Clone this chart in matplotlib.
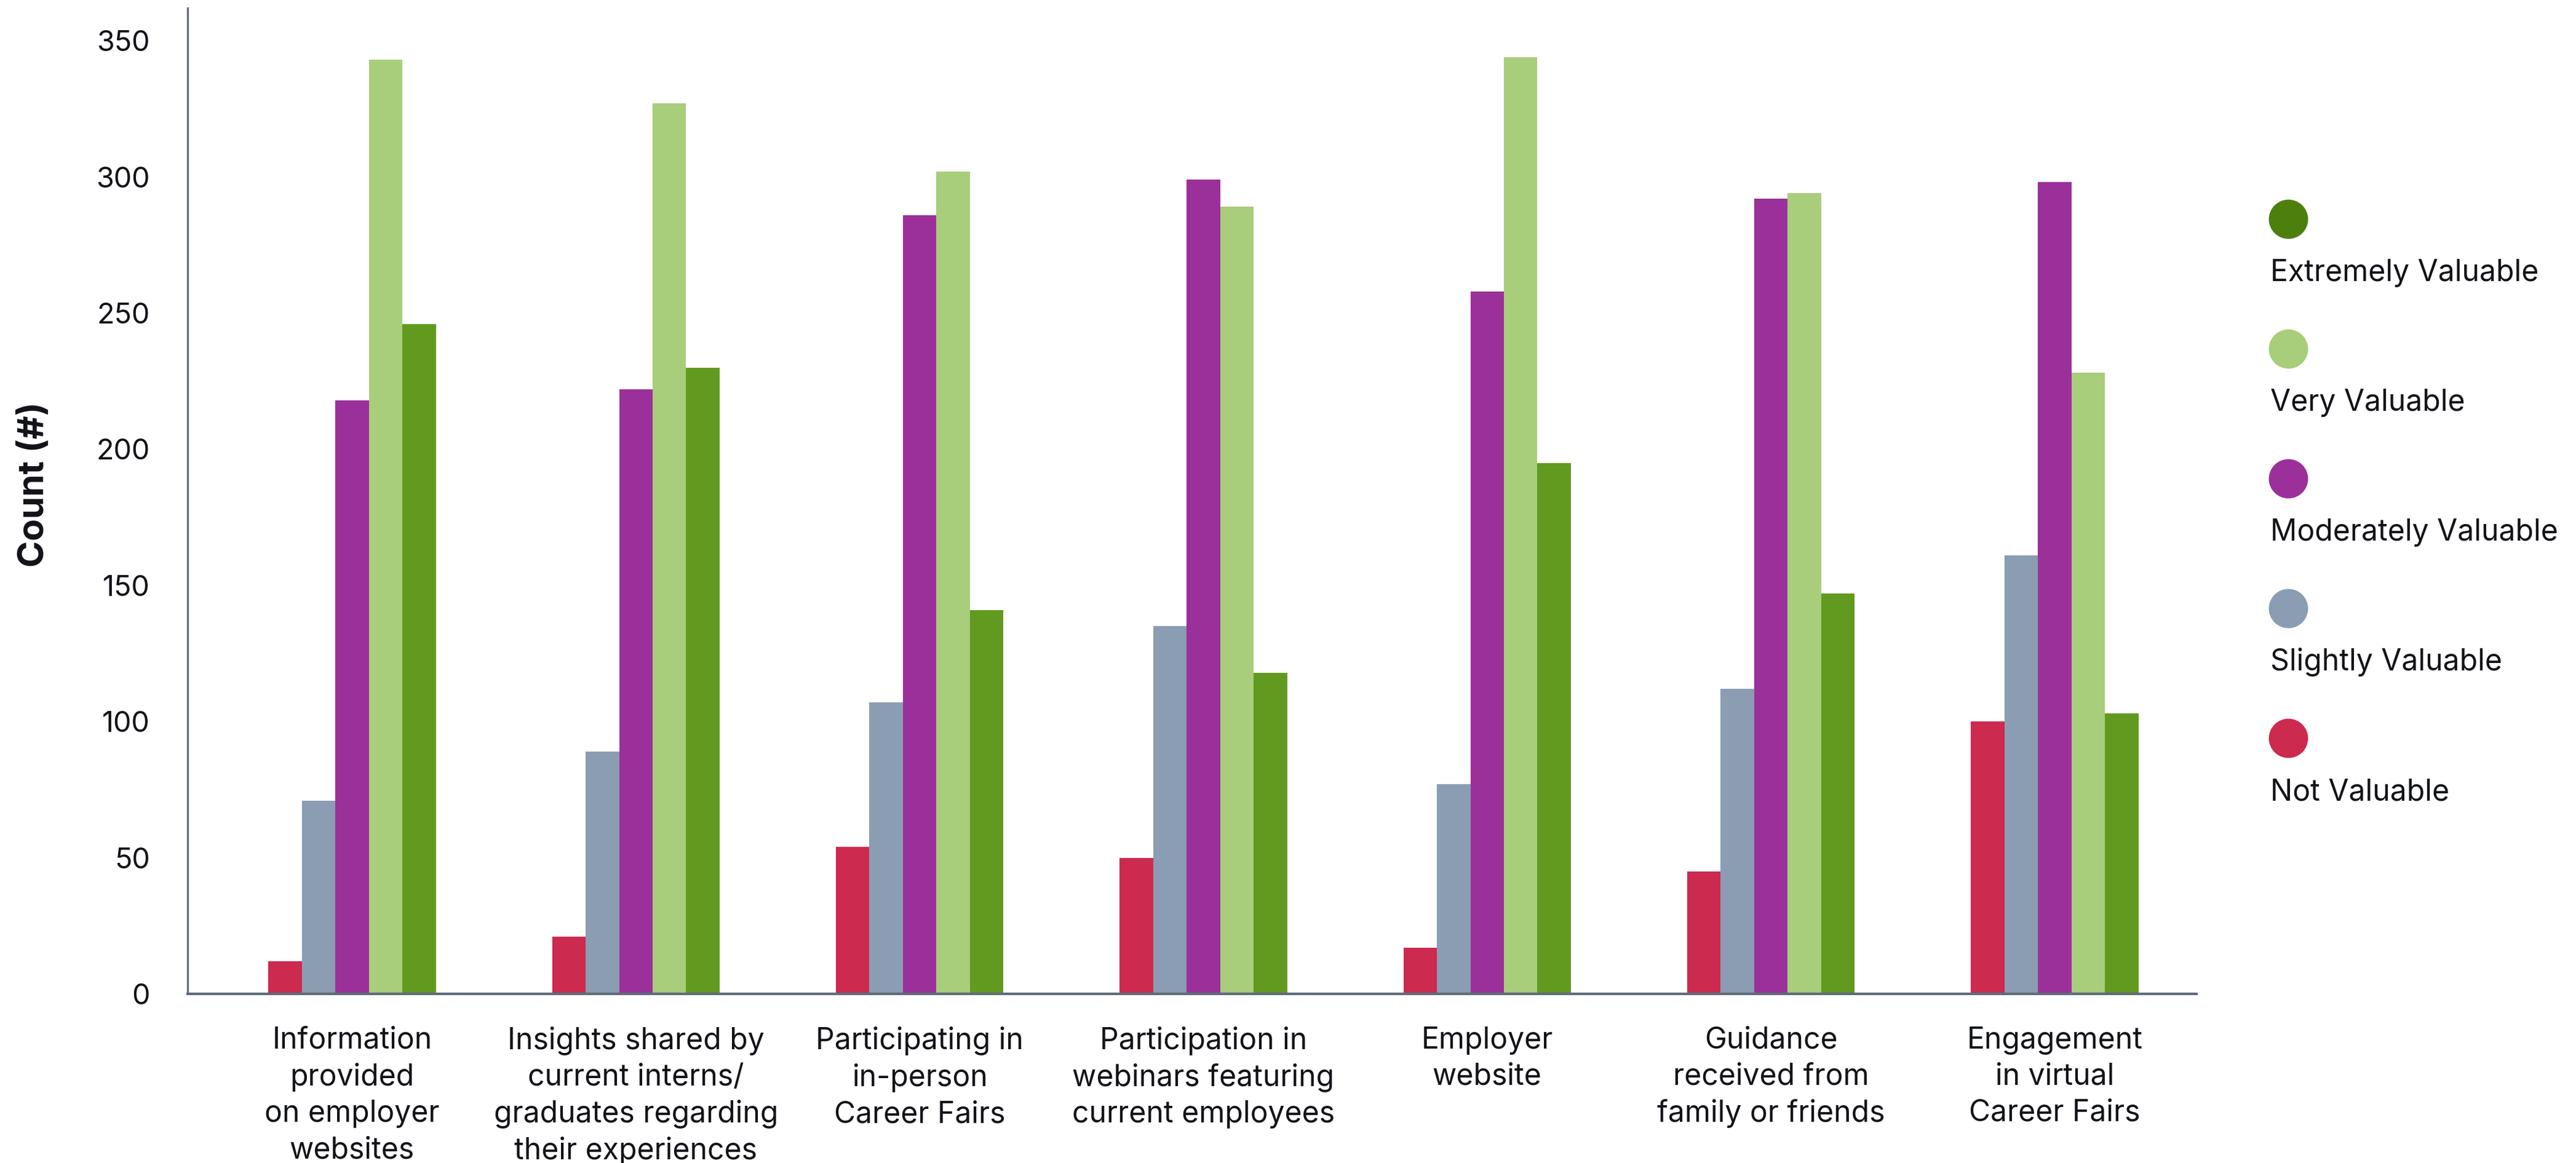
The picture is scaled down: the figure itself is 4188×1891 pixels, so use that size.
import matplotlib
matplotlib.use("Agg")
import matplotlib.pyplot as plt
import numpy as np
from matplotlib.lines import Line2D

plt.rcParams['font.family'] = ['Inter', 'DejaVu Sans']

categories = [
    "Information\nprovided\non employer\nwebsites",
    "Insights shared by\ncurrent interns/\ngraduates regarding\ntheir experiences",
    "Participating in\nin-person\nCareer Fairs",
    "Participation in\nwebinars featuring\ncurrent employees",
    "Employer\nwebsite",
    "Guidance\nreceived from\nfamily or friends",
    "Engagement\nin virtual\nCareer Fairs",
]
series_names = ["Not Valuable", "Slightly Valuable", "Moderately Valuable",
                "Very Valuable", "Extremely Valuable"]
not_valuable = [12, 21, 54, 50, 17, 45, 100]
slightly_valuable = [71, 89, 107, 135, 77, 112, 161]
moderately_valuable = [218, 222, 286, 299, 258, 292, 298]
very_valuable = [343, 327, 302, 289, 344, 294, 228]
extremely_valuable = [246, 230, 141, 118, 195, 147, 103]
yticks = [0, 50, 100, 150, 200, 250, 300, 350]

series = [not_valuable, slightly_valuable, moderately_valuable,
          very_valuable, extremely_valuable]
bar_colors = ["#CC2A4E", "#8A9DB2", "#9B309A", "#A8CD7B", "#629A20"]
legend_colors = ["#CC2A4E", "#8A9DB2", "#9B309A", "#A8CD7B", "#4D7F0D"]

fig = plt.figure(figsize=(20.94, 9.455), dpi=200)
ax = fig.add_axes([0.0728, 0.1454, 0.7799, 0.8477])

x = np.arange(len(categories))
w = 0.118
for i, (vals, c) in enumerate(zip(series, bar_colors)):
    ax.bar(x + (i - 2) * w, vals, width=w, color=c, linewidth=0)

ax.set_xlim(-0.58, 6.50)
ax.set_ylim(0, 362)
ax.set_yticks(yticks)
ax.set_yticklabels([str(v) for v in yticks])
ax.set_xticks(x)
ax.set_xticklabels(categories, linespacing=1.36, fontsize=17.3)
ax.tick_params(axis='both', length=0, colors='#111318')
ax.tick_params(axis='y', pad=22, labelsize=16.8)
ax.tick_params(axis='x', pad=19)
for s in ['top', 'right']:
    ax.spines[s].set_visible(False)
for s in ['left', 'bottom']:
    ax.spines[s].set_color('#5F6B7A')
    ax.spines[s].set_linewidth(1.1)
ax.spines['bottom'].set_linewidth(1.5)

fig.text(56 / 4188, 1 - 788 / 1891, "Count (#)", rotation=90, fontsize=21,
         fontweight='bold', color='#111318', ha='center', va='center')

# legend (manual, top to bottom: Extremely -> Not)
leg_order = list(range(4, -1, -1))
y0 = 1 - 356 / 1891
dy = 211 / 1891
for k, idx in enumerate(leg_order):
    yc = y0 - k * dy
    fig.add_artist(Line2D([3720 / 4188], [yc], marker='o', markersize=22,
                          color=legend_colors[idx], linestyle='none',
                          transform=fig.transFigure))
    fig.text(3691 / 4188, yc - 88 / 1891, series_names[idx], fontsize=17.3,
             color='#111318', ha='left', va='center')

fig.savefig("out.png", dpi=200)
